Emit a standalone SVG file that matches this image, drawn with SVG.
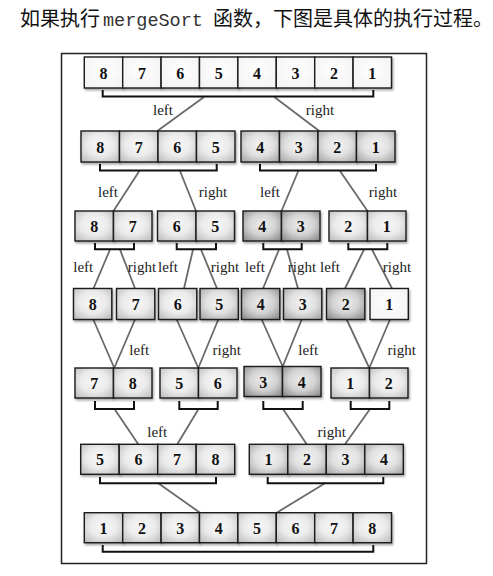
<svg xmlns="http://www.w3.org/2000/svg" width="493" height="576" viewBox="0 0 493 576">
<style>
.b{stroke:#1a1a1a;stroke-width:1.4;filter:url(#sh)}
.w{fill:url(#gw)}.l{fill:url(#gl)}.m{fill:url(#gm)}.d{fill:url(#gd)}
.n{font-family:"Liberation Serif",serif;font-weight:bold;font-size:16px;text-anchor:middle;fill:#111}
.t{font-family:"Liberation Serif",serif;font-size:15px;text-anchor:middle;fill:#222}
.br{fill:none;stroke:#111;stroke-width:2}
.c{stroke:#6a6a6a;stroke-width:1.8;fill:none}
</style>
<defs>
<filter id="sh" x="-20%" y="-20%" width="150%" height="160%"><feDropShadow dx="1.2" dy="1.8" stdDeviation="1.2" flood-color="#000" flood-opacity="0.35"/></filter>
<radialGradient id="gw" cx="50%" cy="45%" r="70%"><stop offset="0" stop-color="#ffffff"/><stop offset="1" stop-color="#f2f2f2"/></radialGradient>
<radialGradient id="gl" cx="50%" cy="45%" r="70%"><stop offset="0" stop-color="#f8f8f8"/><stop offset="0.5" stop-color="#ebebeb"/><stop offset="1" stop-color="#bdbdbd"/></radialGradient>
<radialGradient id="gm" cx="50%" cy="45%" r="70%"><stop offset="0" stop-color="#f4f4f4"/><stop offset="0.5" stop-color="#e0e0e0"/><stop offset="1" stop-color="#a6a6a6"/></radialGradient>
<radialGradient id="gd" cx="50%" cy="45%" r="70%"><stop offset="0" stop-color="#eeeeee"/><stop offset="0.5" stop-color="#d2d2d2"/><stop offset="1" stop-color="#8a8a8a"/></radialGradient>
</defs>
<rect width="493" height="576" fill="#fff"/>
<text id="title" y="26" font-size="20" fill="#111" font-family="'Noto Sans CJK SC',sans-serif"><tspan x="20">如果执行</tspan><tspan x="103" font-family="'Liberation Mono',monospace" font-size="18.5" fill="#333">mergeSort</tspan><tspan x="213">函数，下图是具体的执行过程。</tspan></text>
<rect id="frame" x="61.5" y="53.5" width="365" height="510" fill="#fff" stroke="#222" stroke-width="1.5"/>

<g id="connectors">
<path class="c" d="M204 97L157.3 131M274.3 97L319.3 131"/>
<path class="c" d="M139.3 171L113.5 211M180 171L196 211M298.3 171L281.5 211M340 171L367.5 211"/>
<path class="c" d="M110 249.5L93.5 288.5M120 249.5L135 288.5M193 249.5L184 288.5M201 249.5L217 288.5M279 249.5L263 288.5M287 249.5L298 288.5M364 249.5L345 288.5M372 249.5L392 288.5"/>
<path class="c" d="M93.3 319.5L114.3 368M135 319.5L114.3 368M176.7 319.5L198.3 368M218.3 319.5L198.3 368M261.7 319.5L282.7 366.5M301.7 319.5L282.7 366.5M346.7 319.5L369.3 368M390 319.5L369.3 368"/>
<path class="c" d="M114.5 409L138.3 444.3M198.5 409L177.3 444.3M283 409L306.7 444.3M370 409L345 444.3"/>
<path class="c" d="M158.3 483.3L200 512.7M325 483.3L276.7 512.7"/>
<path class="br" d="M102.7 90V96.5H373.3V90"/>
<path class="br" d="M100 164V170.5H216.7V164M260 164V170.5H376V164"/>
<path class="br" d="M95 243V249.3H134V243M176.7 243V249.3H216V243M263.3 243V249.3H301.7V243M348.3 243V249.3H387.3V243"/>
<path class="br" d="M95 401V409H134V401M179.3 401V409H217.7V401M263.3 401V409H302.7V401M350.7 401V409H389.3V401"/>
<path class="br" d="M100 477V483.3H216V477M267.7 477V483.3H383.3V477"/>
<path class="br" d="M102.7 545V551.7H373.3V545"/>
</g>

<g id="labels">
<text class="t" x="163" y="115">left</text><text class="t" x="320" y="115">right</text>
<text class="t" x="108" y="197">left</text><text class="t" x="213" y="197">right</text><text class="t" x="270" y="197">left</text><text class="t" x="383" y="197">right</text>
<text class="t" x="83.3" y="272">left</text><text class="t" x="142" y="272">right</text><text class="t" x="168" y="272">left</text><text class="t" x="225" y="272">right</text><text class="t" x="255" y="272">left</text><text class="t" x="302" y="272">right</text><text class="t" x="330" y="272">left</text><text class="t" x="397" y="272">right</text>
<text class="t" x="139.3" y="355">left</text><text class="t" x="226.7" y="355">right</text><text class="t" x="308.3" y="355">left</text><text class="t" x="401.7" y="355">right</text>
<text class="t" x="157.3" y="437">left</text><text class="t" x="331.7" y="437">right</text>
</g>

<g id="row1">
<rect class="b w" x="84.3" y="57" width="38.4" height="31"/><rect class="b w" x="122.7" y="57" width="38.4" height="31"/><rect class="b w" x="161.1" y="57" width="38.4" height="31"/><rect class="b w" x="199.5" y="57" width="38.4" height="31"/><rect class="b w" x="237.9" y="57" width="38.4" height="31"/><rect class="b w" x="276.3" y="57" width="38.4" height="31"/><rect class="b w" x="314.7" y="57" width="38.4" height="31"/><rect class="b w" x="353.1" y="57" width="38.4" height="31"/>
<text class="n" x="103.5" y="78.5">8</text><text class="n" x="141.9" y="78.5">7</text><text class="n" x="180.3" y="78.5">6</text><text class="n" x="218.7" y="78.5">5</text><text class="n" x="257.1" y="78.5">4</text><text class="n" x="295.5" y="78.5">3</text><text class="n" x="333.9" y="78.5">2</text><text class="n" x="372.3" y="78.5">1</text>
</g>

<g id="row2-left">
<rect class="b l" x="81" y="131" width="38.5" height="31"/><rect class="b l" x="119.5" y="131" width="38.5" height="31"/><rect class="b l" x="158" y="131" width="38.5" height="31"/><rect class="b l" x="196.5" y="131" width="38.5" height="31"/>
<text class="n" x="100.3" y="152.5">8</text><text class="n" x="138.8" y="152.5">7</text><text class="n" x="177.3" y="152.5">6</text><text class="n" x="215.8" y="152.5">5</text>
</g>
<g id="row2-right">
<rect class="b m" x="241" y="131" width="38.5" height="31"/><rect class="b m" x="279.5" y="131" width="38.5" height="31"/><rect class="b m" x="318" y="131" width="38.5" height="31"/><rect class="b m" x="356.5" y="131" width="38.5" height="31"/>
<text class="n" x="260.3" y="152.5">4</text><text class="n" x="298.8" y="152.5">3</text><text class="n" x="337.3" y="152.5">2</text><text class="n" x="375.8" y="152.5">1</text>
</g>

<g id="row3-87">
<rect class="b l" x="75" y="211" width="38.5" height="30"/><rect class="b l" x="113.5" y="211" width="38.5" height="30"/>
<text class="n" x="94.3" y="232">8</text><text class="n" x="132.8" y="232">7</text>
</g>
<g id="row3-65">
<rect class="b l" x="157.5" y="211" width="38.5" height="30"/><rect class="b l" x="196" y="211" width="38.5" height="30"/>
<text class="n" x="176.8" y="232">6</text><text class="n" x="215.3" y="232">5</text>
</g>
<g id="row3-43">
<rect class="b d" x="243" y="211" width="38.5" height="30"/><rect class="b d" x="281.5" y="211" width="38.5" height="30"/>
<text class="n" x="262.3" y="232">4</text><text class="n" x="300.8" y="232">3</text>
</g>
<g id="row3-21">
<rect class="b l" x="329" y="211" width="38.5" height="30"/><rect class="b l" x="367.5" y="211" width="38.5" height="30"/>
<text class="n" x="348.3" y="232">2</text><text class="n" x="386.8" y="232">1</text>
</g>

<g id="row4-8"><rect class="b l" x="73.5" y="288.5" width="38.3" height="31"/><text class="n" x="92.7" y="310">8</text></g>
<g id="row4-7"><rect class="b l" x="116.5" y="288.5" width="38.3" height="31"/><text class="n" x="135.7" y="310">7</text></g>
<g id="row4-6"><rect class="b l" x="158.5" y="288.5" width="38.3" height="31"/><text class="n" x="177.7" y="310">6</text></g>
<g id="row4-5"><rect class="b m" x="200" y="288.5" width="38.3" height="31"/><text class="n" x="219.2" y="310">5</text></g>
<g id="row4-4"><rect class="b d" x="241.5" y="288.5" width="38.3" height="31"/><text class="n" x="260.7" y="310">4</text></g>
<g id="row4-3"><rect class="b m" x="283.5" y="288.5" width="38.3" height="31"/><text class="n" x="302.7" y="310">3</text></g>
<g id="row4-2"><rect class="b d" x="326.5" y="288.5" width="38.3" height="31"/><text class="n" x="345.7" y="310">2</text></g>
<g id="row4-1"><rect class="b w" x="370" y="288.5" width="38.3" height="31"/><text class="n" x="389.2" y="310">1</text></g>

<g id="row5-78">
<rect class="b l" x="75" y="368" width="38.5" height="30"/><rect class="b l" x="113.5" y="368" width="38.5" height="30"/>
<text class="n" x="94.3" y="389">7</text><text class="n" x="132.8" y="389">8</text>
</g>
<g id="row5-56">
<rect class="b l" x="160" y="368" width="38.5" height="30"/><rect class="b l" x="198.5" y="368" width="38.5" height="30"/>
<text class="n" x="179.3" y="389">5</text><text class="n" x="217.8" y="389">6</text>
</g>
<g id="row5-34">
<rect class="b d" x="244" y="366.5" width="38.5" height="30"/><rect class="b d" x="282.5" y="366.5" width="38.5" height="30"/>
<text class="n" x="263.3" y="387.5">3</text><text class="n" x="301.8" y="387.5">4</text>
</g>
<g id="row5-12">
<rect class="b l" x="331" y="368" width="38.5" height="30"/><rect class="b l" x="369.5" y="368" width="38.5" height="30"/>
<text class="n" x="350.3" y="389">1</text><text class="n" x="388.8" y="389">2</text>
</g>

<g id="row6-left">
<rect class="b l" x="80.7" y="444.3" width="38.5" height="30"/><rect class="b l" x="119.2" y="444.3" width="38.5" height="30"/><rect class="b l" x="157.7" y="444.3" width="38.5" height="30"/><rect class="b l" x="196.2" y="444.3" width="38.5" height="30"/>
<text class="n" x="100" y="465.3">5</text><text class="n" x="138.5" y="465.3">6</text><text class="n" x="177" y="465.3">7</text><text class="n" x="215.5" y="465.3">8</text>
</g>
<g id="row6-right">
<rect class="b m" x="249.3" y="444.3" width="38.5" height="30"/><rect class="b m" x="287.8" y="444.3" width="38.5" height="30"/><rect class="b m" x="326.3" y="444.3" width="38.5" height="30"/><rect class="b m" x="364.8" y="444.3" width="38.5" height="30"/>
<text class="n" x="268.6" y="465.3">1</text><text class="n" x="307.1" y="465.3">2</text><text class="n" x="345.6" y="465.3">3</text><text class="n" x="384.1" y="465.3">4</text>
</g>

<g id="row7">
<rect class="b l" x="84.3" y="512.7" width="38.4" height="30"/><rect class="b l" x="122.7" y="512.7" width="38.4" height="30"/><rect class="b l" x="161.1" y="512.7" width="38.4" height="30"/><rect class="b l" x="199.5" y="512.7" width="38.4" height="30"/><rect class="b l" x="237.9" y="512.7" width="38.4" height="30"/><rect class="b l" x="276.3" y="512.7" width="38.4" height="30"/><rect class="b l" x="314.7" y="512.7" width="38.4" height="30"/><rect class="b l" x="353.1" y="512.7" width="38.4" height="30"/>
<text class="n" x="103.5" y="533.7">1</text><text class="n" x="141.9" y="533.7">2</text><text class="n" x="180.3" y="533.7">3</text><text class="n" x="218.7" y="533.7">4</text><text class="n" x="257.1" y="533.7">5</text><text class="n" x="295.5" y="533.7">6</text><text class="n" x="333.9" y="533.7">7</text><text class="n" x="372.3" y="533.7">8</text>
</g>
</svg>
